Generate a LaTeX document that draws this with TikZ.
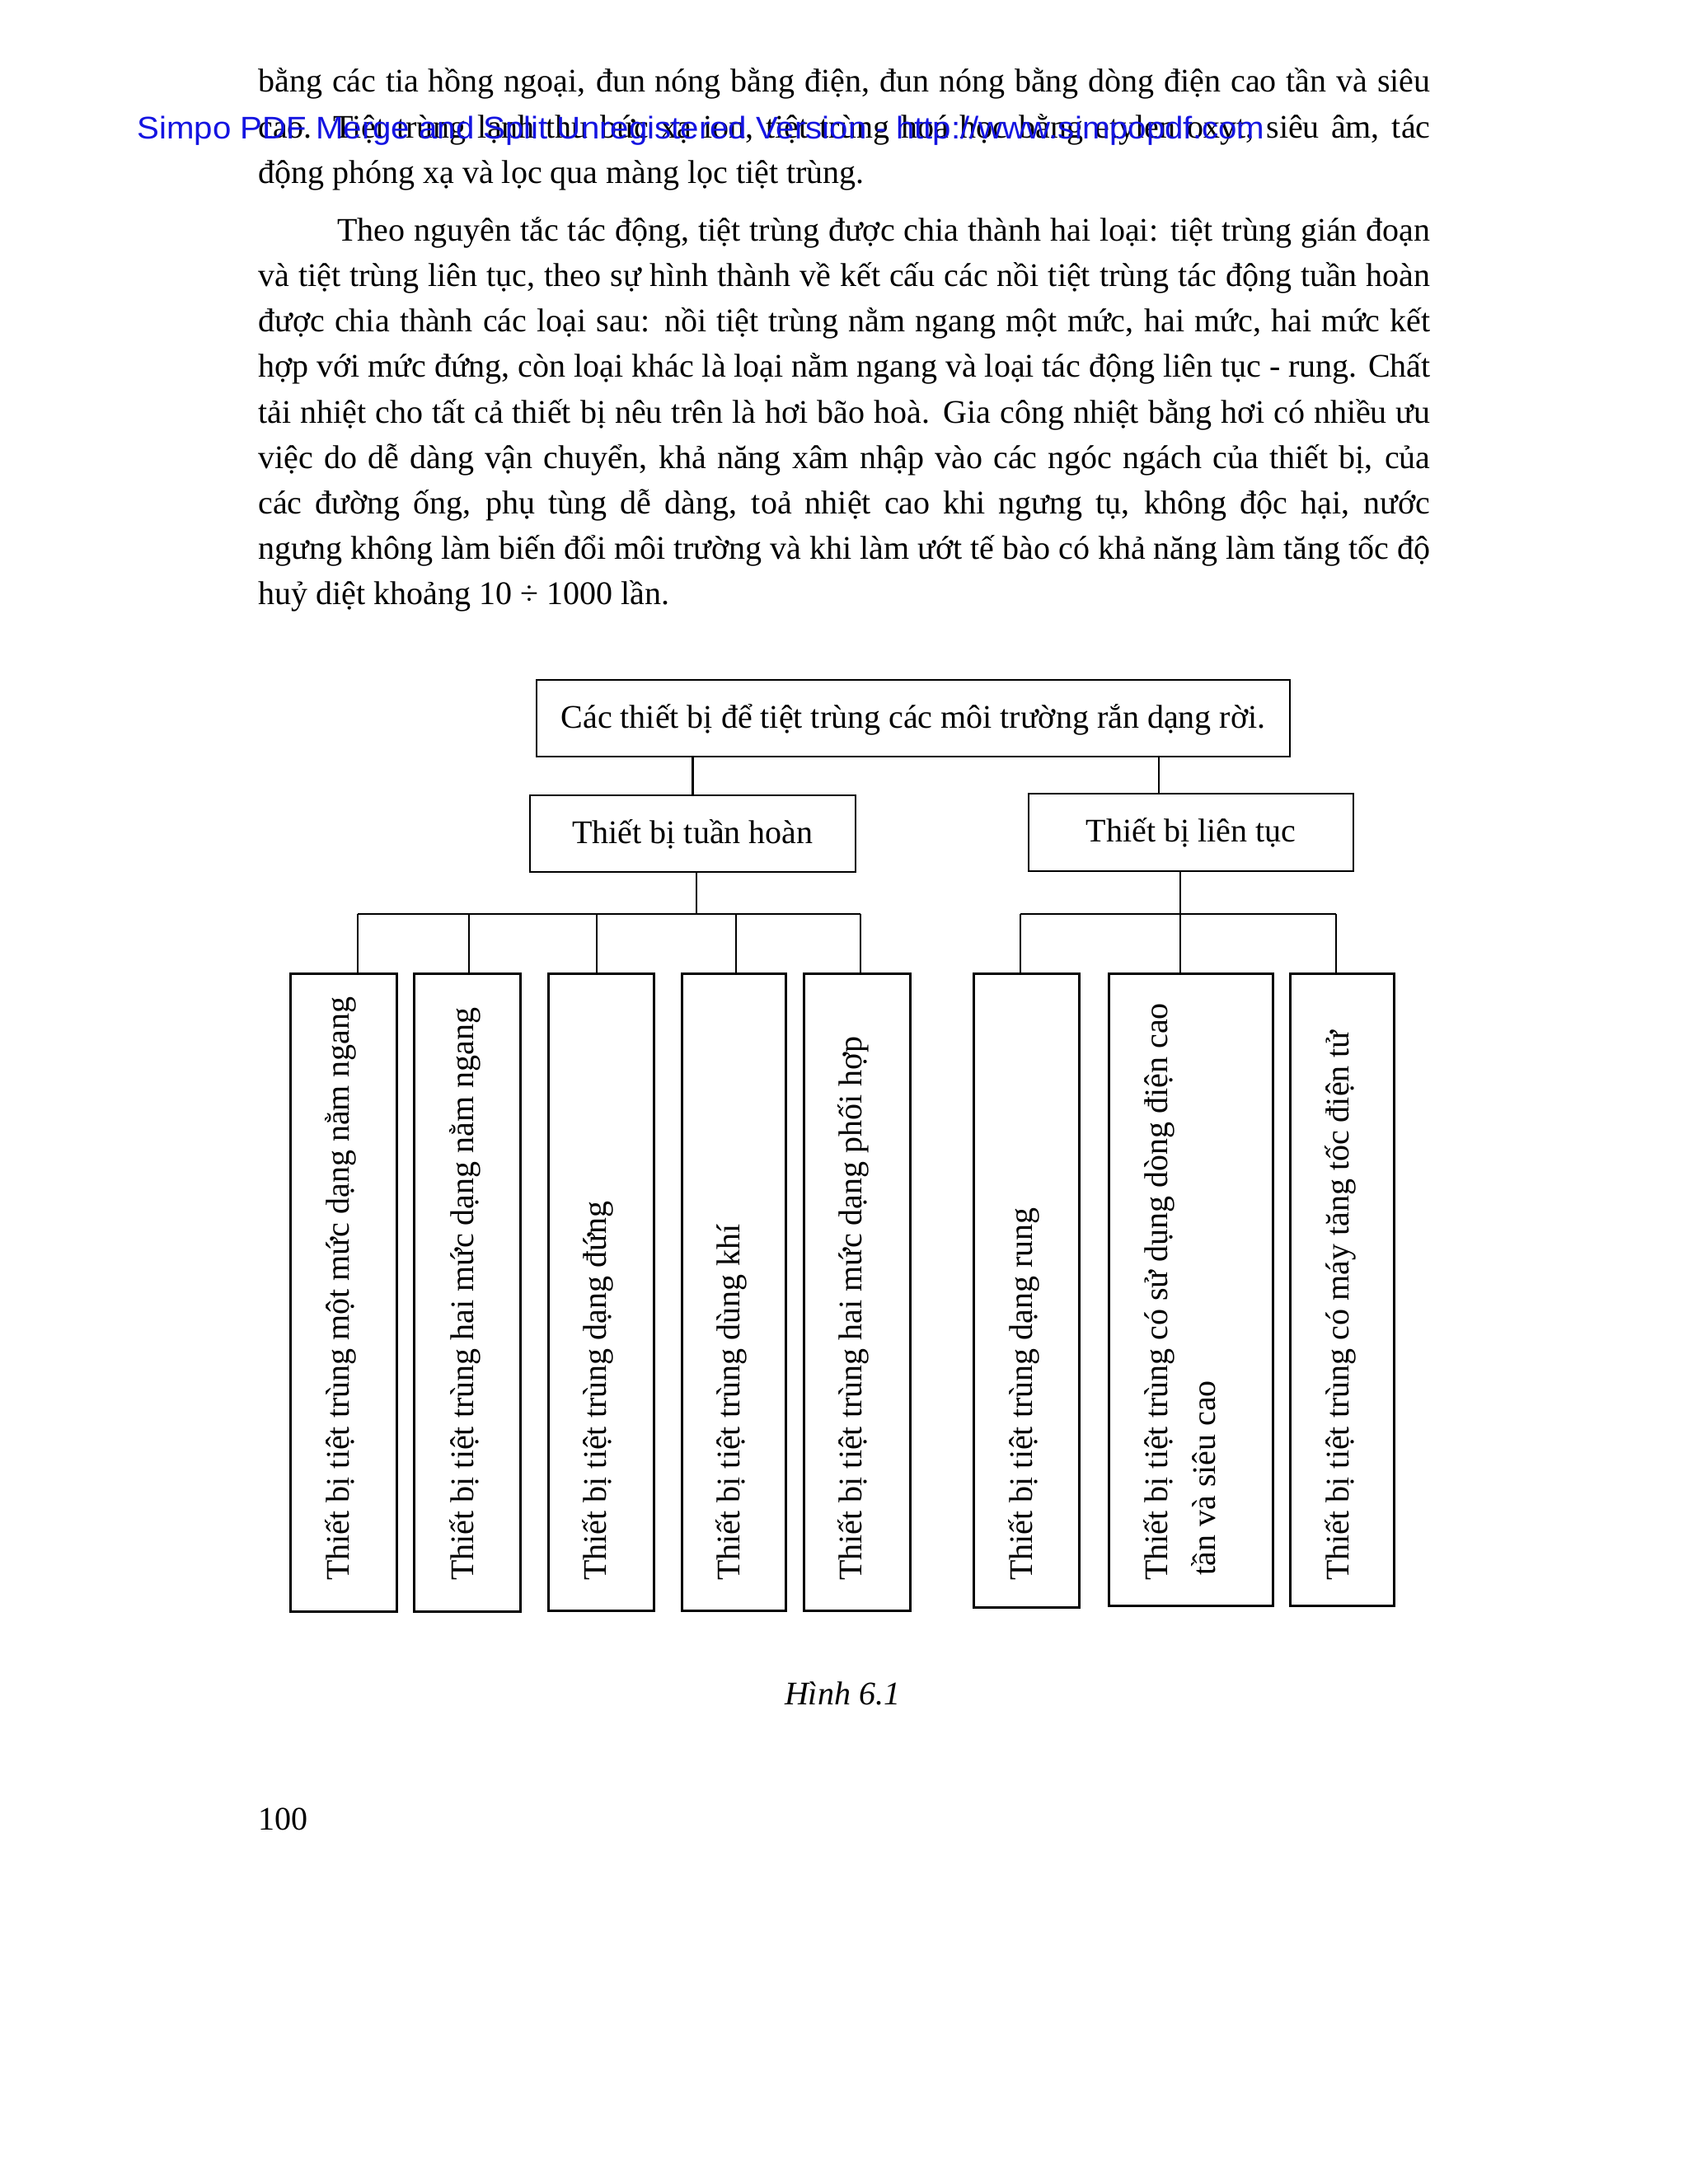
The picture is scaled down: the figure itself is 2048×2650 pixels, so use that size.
\documentclass[tikz,border=0pt]{standalone}
\usepackage{fontspec}
\setmainfont{Liberation Serif}
\newfontfamily\wmfont{Liberation Sans}
\definecolor{wmblue}{RGB}{20,20,225}
\begin{document}
\begin{tikzpicture}[x=0.5pt,y=-0.5pt,
  font=\fontsize{20pt}{27pt}\selectfont,
  txt/.style={anchor=base west, inner sep=0pt},
  bx/.style={draw, line width=1.3pt, inner sep=0pt, anchor=north west},
  hbox/.style={draw, line width=1.3pt, inner sep=0pt, anchor=center, text height=16pt, text depth=4.5pt},
  vt/.style={rotate=90, anchor=base west, inner sep=0pt},
  ln/.style={line width=1.3pt}]
\useasboundingbox (0,0) rectangle (2048,2650);
\fill[white] (0,0) rectangle (2048,2650);

% ---------- body text ----------
\node[txt] (p1) at (313,111) {\makebox[711pt][s]{bằng các tia hồng ngoại, đun nóng bằng điện, đun nóng bằng dòng điện cao tần và siêu}};
\node[txt] (p2) at (313,167) {\makebox[711pt][s]{cao. Tiệt trùng lạnh thu bức xạ ion, tiệt trùng hoá học bằng etylen oxyt, siêu âm, tác}};
\node[txt] (p3) at (313,222) {động phóng xạ và lọc qua màng lọc tiệt trùng.};
\node[txt] (q1) at (409,292) {\makebox[663pt][s]{Theo nguyên tắc tác động, tiệt trùng được chia thành hai loại: tiệt trùng gián đoạn}};
\node[txt] (q2) at (313,347) {\makebox[711pt][s]{và tiệt trùng liên tục, theo sự hình thành về kết cấu các nồi tiệt trùng tác động tuần hoàn}};
\node[txt] (q3) at (313,402) {\makebox[711pt][s]{được chia thành các loại sau: nồi tiệt trùng nằm ngang một mức, hai mức, hai mức kết}};
\node[txt] (q4) at (313,457) {\makebox[711pt][s]{hợp với mức đứng, còn loại khác là loại nằm ngang và loại tác động liên tục - rung. Chất}};
\node[txt] (q5) at (313,513) {\makebox[711pt][s]{tải nhiệt cho tất cả thiết bị nêu trên là hơi bão hoà. Gia công nhiệt bằng hơi có nhiều ưu}};
\node[txt] (q6) at (313,568) {\makebox[711pt][s]{việc do dễ dàng vận chuyển, khả năng xâm nhập vào các ngóc ngách của thiết bị, của}};
\node[txt] (q7) at (313,623) {\makebox[711pt][s]{các đường ống, phụ tùng dễ dàng, toả nhiệt cao khi ngưng tụ, không độc hại, nước}};
\node[txt] (q8) at (313,678) {\makebox[711pt][s]{ngưng không làm biến đổi môi trường và khi làm ướt tế bào có khả năng làm tăng tốc độ}};
\node[txt] (q9) at (313,733) {huỷ diệt khoảng 10 ÷ 1000 lần.};

% ---------- watermark ----------
\node[txt, font=\wmfont\fontsize{19pt}{22pt}\selectfont, text=wmblue] (wm) at (166,168)
  {\resizebox{684pt}{\height}{Simpo PDF Merge and Split Unregistered Version - http://www.simpopdf.com}};

% ---------- diagram: upper boxes ----------
\node[hbox, minimum width=457pt, minimum height=46.5pt] (top) at (1108,871.5) {Các thiết bị để tiệt trùng các môi trường rắn dạng rời.};
\node[hbox, minimum width=197.5pt, minimum height=46.5pt] (th) at (840.5,1011.5) {Thiết bị tuần hoàn};
\node[hbox, minimum width=197pt, minimum height=47pt] (lt) at (1445,1010) {Thiết bị liên tục};

% ---------- diagram: lower boxes ----------
\node[bx, minimum width=64.5pt, minimum height=387pt] (b1) at (351,1180) {};
\node[bx, minimum width=64.5pt, minimum height=387pt] (b2) at (501,1180) {};
\node[bx, minimum width=64pt, minimum height=386.5pt] (b3) at (664,1180) {};
\node[bx, minimum width=63pt, minimum height=386.5pt] (b4) at (826,1180) {};
\node[bx, minimum width=64.5pt, minimum height=386.5pt] (b5) at (974,1180) {};
\node[bx, minimum width=64pt, minimum height=384.5pt] (b6) at (1180,1180) {};
\node[bx, minimum width=99.5pt, minimum height=383.5pt] (b7) at (1344,1180) {};
\node[bx, minimum width=63pt, minimum height=383.5pt] (b8) at (1564,1180) {};

\node[vt] (t1) at (423,1918) {Thiết bị tiệt trùng một mức dạng nằm ngang};
\node[vt] (t2) at (574,1918) {Thiết bị tiệt trùng hai mức dạng nằm ngang};
\node[vt] (t3) at (735,1918) {Thiết bị tiệt trùng dạng đứng};
\node[vt] (t4) at (897,1918) {Thiết bị tiệt trùng dùng khí};
\node[vt] (t5) at (1045,1918) {Thiết bị tiệt trùng hai mức dạng phối hợp};
\node[vt] (t6) at (1252,1918) {Thiết bị tiệt trùng dạng rung};
\node[vt] (t7a) at (1416,1918) {Thiết bị tiệt trùng có sử dụng dòng điện cao};
\node[vt] (t7b) at (1474,1912) {tần và siêu cao};
\node[vt] (t8) at (1636,1918) {Thiết bị tiệt trùng có máy tăng tốc điện tử};

% ---------- connectors ----------
\coordinate (c2) at (1406,1010);
\coordinate (jL) at (845,1109);
\coordinate (jR) at (1432,1109);
\coordinate (d1) at (434,1109);
\coordinate (d2) at (569,1109);
\coordinate (d3) at (724,1109);
\coordinate (d4) at (893,1109);
\coordinate (d5) at (1044,1109);
\coordinate (d6) at (1238,1109);
\coordinate (d8) at (1621,1109);

\draw[ln] (top.south -| th.north) -- (th.north);
\draw[ln] (top.south -| c2) -- (lt.north -| c2);
\draw[ln] (th.south -| jL) -- (jL);
\draw[ln] (lt.south -| jR) -- (jR);
\draw[ln] (d1) -- (d5);
\draw[ln] (d6) -- (d8);
\draw[ln] (d1) -- (d1 |- b1.north);
\draw[ln] (d2) -- (d2 |- b2.north);
\draw[ln] (d3) -- (d3 |- b3.north);
\draw[ln] (d4) -- (d4 |- b4.north);
\draw[ln] (d5) -- (d5 |- b5.north);
\draw[ln] (d6) -- (d6 |- b6.north);
\draw[ln] (jR) -- (jR |- b7.north);
\draw[ln] (d8) -- (d8 |- b8.north);

% ---------- caption and page number ----------
\node[anchor=base, inner sep=0pt, font=\fontsize{20pt}{24pt}\selectfont\itshape] (cap) at (1022,2068) {Hình 6.1};
\node[txt] (pg) at (313,2220) {100};
\end{tikzpicture}
\end{document}
